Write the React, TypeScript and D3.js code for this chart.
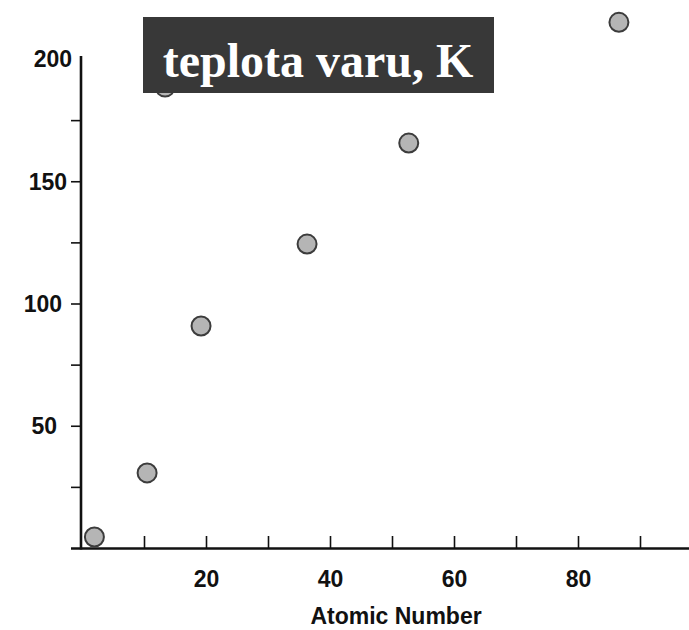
import { useEffect, useRef } from 'react';
import * as d3 from 'd3';

// values (atomic number, boiling point in K)
const atomicNumbers = [2, 10.5, 13.4, 19.2, 36.3, 52.7, 86.6];
const boilingPoints = [4.5, 30.7, 188.5, 90.8, 124.3, 165.6, 215];
const xTicks = [10, 20, 30, 40, 50, 60, 70, 80, 90];
const xTickLabels = [20, 40, 60, 80];
const yTicks = [25, 50, 75, 100, 125, 150, 175];
const yTickLabels = [50, 100, 150, 200];
const titleText = 'teplota varu, K';
const xAxisTitle = 'Atomic Number';

const width = 689;
const height = 630;
const font = '"Liberation Sans", Arial, sans-serif';

export default function App() {
  const gx = useRef<SVGGElement>(null);
  const gy = useRef<SVGGElement>(null);

  const x = d3.scaleLinear().domain([0, 10]).range([82, 144]);
  const y = d3.scaleLinear().domain([0, 200]).range([548, 59]);

  useEffect(() => {
    const el = gx.current;
    if (!el) return;
    const axis = d3
      .axisBottom(x)
      .tickValues(xTicks)
      .tickSize(-12)
      .tickPadding(23)
      .tickFormat((d) => (xTickLabels.includes(d as number) ? String(d) : ''));
    const g = d3.select(el).call(axis);
    g.select('.domain').remove();
    g.selectAll('.tick line').attr('stroke', '#111').attr('stroke-width', 1.6);
    g.selectAll('.tick text')
      .attr('fill', '#111')
      .attr('font-size', 23)
      .attr('font-weight', 'bold')
      .attr('font-family', font);
    return () => {
      d3.select(el).selectAll('*').remove();
    };
  }, [x]);

  useEffect(() => {
    const el = gy.current;
    if (!el) return;
    const axis = d3.axisLeft(y).tickValues(yTicks).tickSize(10).tickFormat(() => '');
    const g = d3.select(el).call(axis);
    g.select('.domain').remove();
    g.selectAll('.tick line').attr('stroke', '#111').attr('stroke-width', 1.6);
    return () => {
      d3.select(el).selectAll('*').remove();
    };
  }, [y]);

  const points = atomicNumbers.map((a, i) => [a, boilingPoints[i]] as [number, number]);
  // the scanned labels sit a little unevenly; right edges drift left going down
  const labelRight = (i: number) => 57 + i * 5;

  return (
    <svg
      width={width}
      height={height}
      style={{ position: 'absolute', left: 0, top: 0, background: '#fff' }}
    >
      <g ref={gx} transform={`translate(0,${y(0)})`} />
      <g ref={gy} transform={`translate(${x(0) - 1},0)`} />
      {yTickLabels.map((v, i) => (
        <text
          key={v}
          x={labelRight(i)}
          y={y(v)}
          dy="0.36em"
          textAnchor="end"
          fontSize={23}
          fontWeight="bold"
          fontFamily={font}
          fill="#111"
        >
          {v}
        </text>
      ))}
      <line x1={x(0) - 1} x2={x(0) - 1} y1={y(200) - 3} y2={y(0) + 1.5} stroke="#111" strokeWidth={2.6} />
      <line x1={71} x2={width} y1={y(0) + 0.5} y2={y(0) + 0.5} stroke="#111" strokeWidth={2.6} />
      {points.map((d, i) => (
        <circle
          key={i}
          cx={x(d[0])}
          cy={y(d[1])}
          r={9.5}
          fill="#b5b5b5"
          stroke="#3c3c3c"
          strokeWidth={2}
        />
      ))}
      <text
        x={396}
        y={624}
        textAnchor="middle"
        fontSize={23}
        fontWeight="bold"
        fontFamily={font}
        fill="#111"
      >
        {xAxisTitle}
      </text>
      <rect x={143} y={17} width={351} height={76} fill="#383838" />
      <text
        x={318}
        y={77}
        textAnchor="middle"
        fontSize={48}
        fontWeight="bold"
        fontFamily='"Liberation Serif", "Times New Roman", serif'
        fill="#fff"
      >
        {titleText}
      </text>
    </svg>
  );
}
